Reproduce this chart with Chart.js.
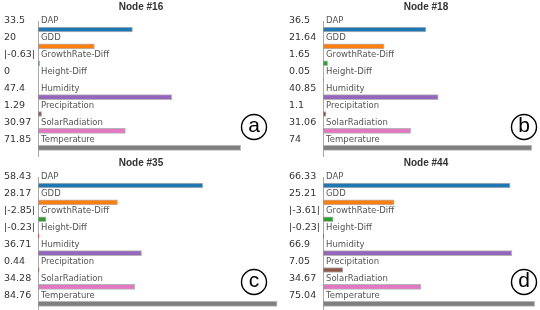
<!DOCTYPE html>
<html>
<head>
<meta charset="utf-8">
<script src="https://cdn.jsdelivr.net/npm/chart.js@4.4.0/dist/chart.umd.min.js"></script>
<style>
body { margin: 0; width: 540px; height: 310px; overflow: hidden; background: #fff; position: relative; }
.panel { position: absolute; width: 278px; height: 165px; }
</style>
</head>
<body>
<div class="panel" style="left:0px;top:0px"><canvas id="chartA"></canvas></div>
<div class="panel" style="left:285px;top:0px"><canvas id="chartB"></canvas></div>
<div class="panel" style="left:0px;top:156px"><canvas id="chartC"></canvas></div>
<div class="panel" style="left:285px;top:156px"><canvas id="chartD"></canvas></div>
<script>
// feature names + colours (shared by all four nodes)
var features = ["DAP", "GDD", "GrowthRate-Diff", "Height-Diff", "Humidity", "Precipitation", "SolarRadiation", "Temperature"];
var featureColors = ["#1f77b4", "#ff7f0e", "#2ca02c", "#d62728", "#9467bd", "#8c564b", "#e377c2", "#7f7f7f"];

var nodeNames = ["Node #16", "Node #18", "Node #35", "Node #44"];
var panelLetters = ["a", "b", "c", "d"];

var node16 = [33.5, 20, -0.63, 0, 47.4, 1.29, 30.97, 71.85];
var node18 = [36.5, 21.64, 1.65, 0.05, 40.85, 1.1, 31.06, 74];
var node35 = [58.43, 28.17, -2.85, -0.23, 36.71, 0.44, 34.28, 84.76];
var node44 = [66.33, 25.21, -3.61, -0.23, 66.9, 7.05, 34.67, 75.04];

var xMax = 85.1;

// negative values are shown as |value| and drawn by magnitude
function valueLabel(v) {
    if (v < 0) return "|" + v + "|";
    return "" + v;
}

var featureNamePlugin = {
    id: "featureNames",
    afterDatasetsDraw: function(chart) {
        var ctx = chart.ctx;
        var yScale = chart.scales.y;
        ctx.save();
        ctx.font = "8.5px 'DejaVu Sans'";
        ctx.fillStyle = "#555";
        ctx.textAlign = "left";
        ctx.textBaseline = "middle";
        for (var i = 0; i < features.length; i++) {
            ctx.fillText(features[i], chart.chartArea.left + 3, yScale.getPixelForValue(i) - 8.5);
        }
        ctx.restore();
    }
};

var badgePlugin = {
    id: "badge",
    afterDraw: function(chart, args, opts) {
        if (!opts.letter) return;
        var ctx = chart.ctx;
        ctx.save();
        ctx.beginPath();
        ctx.arc(opts.x, opts.y, 12.5, 0, Math.PI * 2);
        ctx.lineWidth = 1.4;
        ctx.strokeStyle = "#000";
        ctx.stroke();
        ctx.font = "21px 'Liberation Sans'";
        ctx.fillStyle = "#000";
        ctx.textAlign = "center";
        ctx.textBaseline = "middle";
        ctx.fillText(opts.letter, opts.x, opts.y - 1);
        ctx.restore();
    }
};

function makeChart(id, title, values, letter, bx, by) {
    var ctx = document.getElementById(id).getContext("2d");
    return new Chart(ctx, {
        type: "bar",
        data: {
            labels: values.map(valueLabel),
            datasets: [{
                data: values.map(function(v) { return Math.abs(v); }),
                backgroundColor: featureColors,
                borderColor: "rgba(150,150,150,0.7)",
                borderWidth: 1,
                borderSkipped: false,
                barThickness: 5
            }]
        },
        options: {
            indexAxis: "y",
            responsive: true,
            maintainAspectRatio: false,
            animation: false,
            layout: { padding: { left: 4, right: 0, top: 0, bottom: 1 } },
            scales: {
                x: { display: false, min: 0, max: xMax },
                y: {
                    grid: { drawOnChartArea: false, drawTicks: false },
                    border: { display: true, color: "#aaa", width: 1 },
                    ticks: {
                        crossAlign: "far",
                        labelOffset: -8.5,
                        color: "#333",
                        font: { family: "'DejaVu Sans'", size: 9.5 }
                    },
                    afterFit: function(s) { s.width = 34; }
                }
            },
            plugins: {
                legend: { display: false },
                tooltip: { enabled: false },
                title: {
                    display: true,
                    text: title,
                    color: "#333",
                    font: { family: "'Liberation Sans'", size: 10, weight: "bold" },
                    padding: { top: 1, bottom: 8 }
                },
                badge: { letter: letter, x: bx, y: by }
            }
        },
        plugins: [featureNamePlugin, badgePlugin]
    });
}

makeChart("chartA", nodeNames[0], node16, panelLetters[0], 254, 127);
makeChart("chartB", nodeNames[1], node18, panelLetters[1], 239, 127);
makeChart("chartC", nodeNames[2], node35, panelLetters[2], 254, 126);
makeChart("chartD", nodeNames[3], node44, panelLetters[3], 239, 126);
</script>
</body>
</html>
